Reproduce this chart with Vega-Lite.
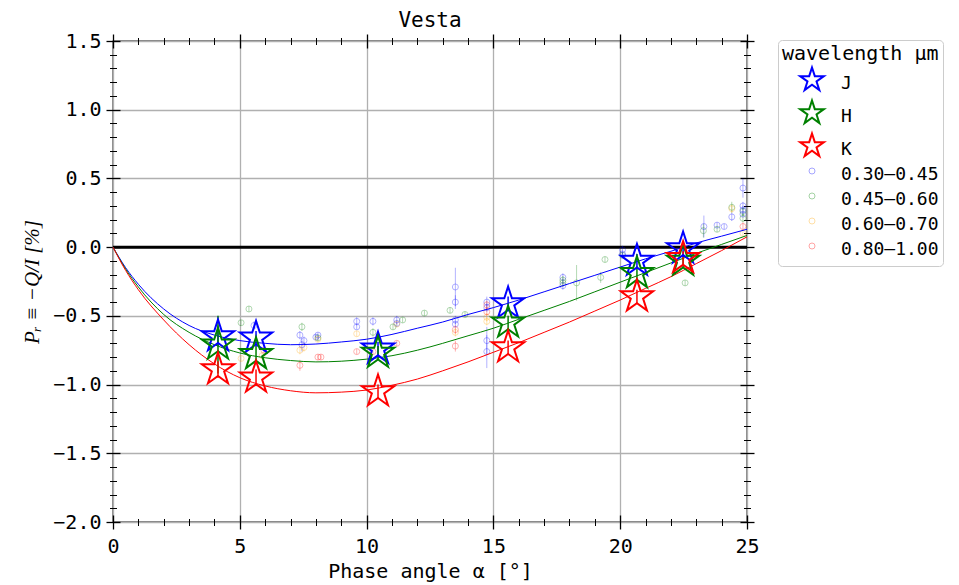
{
  "$schema": "https://vega.github.io/schema/vega-lite/v6.json",
  "width": 634,
  "height": 481,
  "autosize": {"type": "none"},
  "padding": {"left": 113, "top": 41, "right": 212, "bottom": 63},
  "background": "white",
  "title": {"text": "Vesta", "font": "DejaVu Sans Mono", "fontSize": 21, "fontWeight": "normal", "color": "black", "offset": 0},
  "config": {
    "view": {"stroke": "black", "strokeWidth": 1.3},
    "axis": {
      "labelFont": "DejaVu Sans Mono", "labelFontSize": 20, "labelColor": "black",
      "titleFont": "DejaVu Sans Mono", "titleFontSize": 20, "titleFontWeight": "normal", "titleColor": "black",
      "tickColor": "black", "gridColor": "#b0b0b0", "gridWidth": 1.3, "domain": false
    },
    "legend": {
      "strokeColor": "#cccccc", "cornerRadius": 4, "padding": 4, "fillColor": "white",
      "titleFont": "DejaVu Sans Mono", "titleFontSize": 20, "titleFontWeight": "normal", "titleColor": "black", "titlePadding": 7,
      "labelFont": "DejaVu Sans Mono", "labelFontSize": 18, "labelColor": "black", "labelOffset": 22,
      "symbolSize": 100, "symbolOffset": 21, "symbolStrokeWidth": 2, "rowPadding": 0
    }
  },
  "datasets": {
    "curves": [
      {"g": "J", "a": 0, "p": 0}, {"g": "J", "a": 0.5, "p": -0.15}, {"g": "J", "a": 1, "p": -0.27}, {"g": "J", "a": 2, "p": -0.45}, {"g": "J", "a": 3, "p": -0.57}, {"g": "J", "a": 4, "p": -0.64}, {"g": "J", "a": 5, "p": -0.68}, {"g": "J", "a": 6, "p": -0.70}, {"g": "J", "a": 7, "p": -0.71}, {"g": "J", "a": 8, "p": -0.705}, {"g": "J", "a": 9, "p": -0.69}, {"g": "J", "a": 10, "p": -0.67}, {"g": "J", "a": 11, "p": -0.635}, {"g": "J", "a": 12, "p": -0.59}, {"g": "J", "a": 13, "p": -0.545}, {"g": "J", "a": 14, "p": -0.49}, {"g": "J", "a": 15, "p": -0.44}, {"g": "J", "a": 16, "p": -0.385}, {"g": "J", "a": 17, "p": -0.325}, {"g": "J", "a": 18, "p": -0.265}, {"g": "J", "a": 19, "p": -0.205}, {"g": "J", "a": 20, "p": -0.145}, {"g": "J", "a": 21, "p": -0.085}, {"g": "J", "a": 22, "p": -0.03}, {"g": "J", "a": 23, "p": 0.03}, {"g": "J", "a": 24, "p": 0.08}, {"g": "J", "a": 25, "p": 0.13},
      {"g": "H", "a": 0, "p": 0}, {"g": "H", "a": 0.5, "p": -0.16}, {"g": "H", "a": 1, "p": -0.29}, {"g": "H", "a": 2, "p": -0.49}, {"g": "H", "a": 3, "p": -0.62}, {"g": "H", "a": 4, "p": -0.71}, {"g": "H", "a": 5, "p": -0.77}, {"g": "H", "a": 6, "p": -0.805}, {"g": "H", "a": 7, "p": -0.825}, {"g": "H", "a": 8, "p": -0.835}, {"g": "H", "a": 9, "p": -0.83}, {"g": "H", "a": 10, "p": -0.815}, {"g": "H", "a": 11, "p": -0.79}, {"g": "H", "a": 12, "p": -0.75}, {"g": "H", "a": 13, "p": -0.70}, {"g": "H", "a": 14, "p": -0.645}, {"g": "H", "a": 15, "p": -0.59}, {"g": "H", "a": 16, "p": -0.525}, {"g": "H", "a": 17, "p": -0.46}, {"g": "H", "a": 18, "p": -0.395}, {"g": "H", "a": 19, "p": -0.325}, {"g": "H", "a": 20, "p": -0.255}, {"g": "H", "a": 21, "p": -0.185}, {"g": "H", "a": 22, "p": -0.115}, {"g": "H", "a": 23, "p": -0.045}, {"g": "H", "a": 24, "p": 0.02}, {"g": "H", "a": 25, "p": 0.085},
      {"g": "K", "a": 0, "p": 0}, {"g": "K", "a": 0.5, "p": -0.17}, {"g": "K", "a": 1, "p": -0.31}, {"g": "K", "a": 2, "p": -0.53}, {"g": "K", "a": 3, "p": -0.71}, {"g": "K", "a": 4, "p": -0.85}, {"g": "K", "a": 5, "p": -0.95}, {"g": "K", "a": 6, "p": -1.01}, {"g": "K", "a": 7, "p": -1.045}, {"g": "K", "a": 8, "p": -1.06}, {"g": "K", "a": 9, "p": -1.055}, {"g": "K", "a": 10, "p": -1.04}, {"g": "K", "a": 11, "p": -1.005}, {"g": "K", "a": 12, "p": -0.96}, {"g": "K", "a": 13, "p": -0.90}, {"g": "K", "a": 14, "p": -0.835}, {"g": "K", "a": 15, "p": -0.765}, {"g": "K", "a": 16, "p": -0.695}, {"g": "K", "a": 17, "p": -0.62}, {"g": "K", "a": 18, "p": -0.545}, {"g": "K", "a": 19, "p": -0.465}, {"g": "K", "a": 20, "p": -0.385}, {"g": "K", "a": 21, "p": -0.30}, {"g": "K", "a": 22, "p": -0.215}, {"g": "K", "a": 23, "p": -0.12}, {"g": "K", "a": 24, "p": -0.025}, {"g": "K", "a": 25, "p": 0.075}
    ],
    "stars": [
      {"g": "J", "a": 4.14, "p": -0.65, "lo": -0.72, "hi": -0.58},
      {"g": "J", "a": 5.64, "p": -0.66, "lo": -0.71, "hi": -0.61},
      {"g": "J", "a": 10.45, "p": -0.74, "lo": -0.79, "hi": -0.69},
      {"g": "J", "a": 15.58, "p": -0.41, "lo": -0.46, "hi": -0.36},
      {"g": "J", "a": 20.66, "p": -0.10, "lo": -0.15, "hi": -0.05},
      {"g": "J", "a": 22.48, "p": -0.01, "lo": -0.06, "hi": 0.04},
      {"g": "H", "a": 4.14, "p": -0.71, "lo": -0.92, "hi": -0.50},
      {"g": "H", "a": 5.64, "p": -0.78, "lo": -0.84, "hi": -0.72},
      {"g": "H", "a": 10.45, "p": -0.77, "lo": -0.82, "hi": -0.72},
      {"g": "H", "a": 15.58, "p": -0.55, "lo": -0.60, "hi": -0.50},
      {"g": "H", "a": 20.66, "p": -0.19, "lo": -0.24, "hi": -0.14},
      {"g": "H", "a": 22.48, "p": -0.10, "lo": -0.15, "hi": -0.05},
      {"g": "K", "a": 4.14, "p": -0.89, "lo": -0.95, "hi": -0.83},
      {"g": "K", "a": 5.64, "p": -0.95, "lo": -1.01, "hi": -0.89},
      {"g": "K", "a": 10.45, "p": -1.05, "lo": -1.10, "hi": -1.00},
      {"g": "K", "a": 15.58, "p": -0.73, "lo": -0.78, "hi": -0.68},
      {"g": "K", "a": 20.66, "p": -0.36, "lo": -0.41, "hi": -0.31},
      {"g": "K", "a": 22.48, "p": -0.08, "lo": -0.13, "hi": -0.03}
    ],
    "obs": [
      {"g": "0.30–0.45", "a": 5.56, "p": -0.57, "lo": -0.60, "hi": -0.54},
      {"g": "0.30–0.45", "a": 7.37, "p": -0.64, "lo": -0.67, "hi": -0.61},
      {"g": "0.30–0.45", "a": 7.53, "p": -0.68, "lo": -0.71, "hi": -0.65},
      {"g": "0.30–0.45", "a": 7.45, "p": -0.71, "lo": -0.76, "hi": -0.66},
      {"g": "0.30–0.45", "a": 8.08, "p": -0.64, "lo": -0.66, "hi": -0.62},
      {"g": "0.30–0.45", "a": 8.0, "p": -0.655, "lo": -0.675, "hi": -0.635},
      {"g": "0.30–0.45", "a": 9.61, "p": -0.54, "lo": -0.57, "hi": -0.51},
      {"g": "0.30–0.45", "a": 9.61, "p": -0.58, "lo": -0.60, "hi": -0.56},
      {"g": "0.30–0.45", "a": 10.25, "p": -0.54, "lo": -0.57, "hi": -0.51},
      {"g": "0.30–0.45", "a": 11.19, "p": -0.53, "lo": -0.56, "hi": -0.50},
      {"g": "0.30–0.45", "a": 11.19, "p": -0.555, "lo": -0.575, "hi": -0.535},
      {"g": "0.30–0.45", "a": 13.5, "p": -0.29, "lo": -0.43, "hi": -0.15},
      {"g": "0.30–0.45", "a": 13.5, "p": -0.40, "lo": -0.45, "hi": -0.35},
      {"g": "0.30–0.45", "a": 13.5, "p": -0.53, "lo": -0.56, "hi": -0.50},
      {"g": "0.30–0.45", "a": 13.5, "p": -0.56, "lo": -0.58, "hi": -0.54},
      {"g": "0.30–0.45", "a": 14.74, "p": -0.40, "lo": -0.44, "hi": -0.36},
      {"g": "0.30–0.45", "a": 14.74, "p": -0.44, "lo": -0.47, "hi": -0.41},
      {"g": "0.30–0.45", "a": 14.74, "p": -0.68, "lo": -0.78, "hi": -0.58},
      {"g": "0.30–0.45", "a": 14.74, "p": -0.76, "lo": -0.88, "hi": -0.64},
      {"g": "0.30–0.45", "a": 17.74, "p": -0.22, "lo": -0.25, "hi": -0.19},
      {"g": "0.30–0.45", "a": 17.74, "p": -0.28, "lo": -0.31, "hi": -0.25},
      {"g": "0.30–0.45", "a": 20.09, "p": -0.02, "lo": -0.05, "hi": 0.01},
      {"g": "0.30–0.45", "a": 20.09, "p": -0.05, "lo": -0.07, "hi": -0.03},
      {"g": "0.30–0.45", "a": 23.3, "p": 0.15, "lo": 0.07, "hi": 0.23},
      {"g": "0.30–0.45", "a": 23.82, "p": 0.16, "lo": 0.14, "hi": 0.18},
      {"g": "0.30–0.45", "a": 24.1, "p": 0.15, "lo": 0.13, "hi": 0.17},
      {"g": "0.30–0.45", "a": 24.4, "p": 0.22, "lo": 0.19, "hi": 0.25},
      {"g": "0.30–0.45", "a": 24.84, "p": 0.43, "lo": 0.36, "hi": 0.50},
      {"g": "0.30–0.45", "a": 24.84, "p": 0.30, "lo": 0.27, "hi": 0.33},
      {"g": "0.30–0.45", "a": 24.84, "p": 0.27, "lo": 0.24, "hi": 0.30},
      {"g": "0.30–0.45", "a": 24.84, "p": 0.24, "lo": 0.22, "hi": 0.26},
      {"g": "0.45–0.60", "a": 5.05, "p": -0.55, "lo": -0.57, "hi": -0.53},
      {"g": "0.45–0.60", "a": 5.36, "p": -0.45, "lo": -0.47, "hi": -0.43},
      {"g": "0.45–0.60", "a": 7.45, "p": -0.58, "lo": -0.61, "hi": -0.55},
      {"g": "0.45–0.60", "a": 8.08, "p": -0.66, "lo": -0.68, "hi": -0.64},
      {"g": "0.45–0.60", "a": 10.25, "p": -0.62, "lo": -0.65, "hi": -0.59},
      {"g": "0.45–0.60", "a": 11.04, "p": -0.58, "lo": -0.60, "hi": -0.56},
      {"g": "0.45–0.60", "a": 11.42, "p": -0.53, "lo": -0.55, "hi": -0.51},
      {"g": "0.45–0.60", "a": 12.28, "p": -0.48, "lo": -0.50, "hi": -0.46},
      {"g": "0.45–0.60", "a": 13.29, "p": -0.46, "lo": -0.48, "hi": -0.44},
      {"g": "0.45–0.60", "a": 13.88, "p": -0.49, "lo": -0.51, "hi": -0.47},
      {"g": "0.45–0.60", "a": 17.74, "p": -0.24, "lo": -0.27, "hi": -0.21},
      {"g": "0.45–0.60", "a": 17.74, "p": -0.26, "lo": -0.29, "hi": -0.23},
      {"g": "0.45–0.60", "a": 18.28, "p": -0.26, "lo": -0.39, "hi": -0.13},
      {"g": "0.45–0.60", "a": 19.23, "p": -0.22, "lo": -0.26, "hi": -0.18},
      {"g": "0.45–0.60", "a": 19.4, "p": -0.09, "lo": -0.11, "hi": -0.07},
      {"g": "0.45–0.60", "a": 20.09, "p": -0.06, "lo": -0.08, "hi": -0.04},
      {"g": "0.45–0.60", "a": 22.56, "p": -0.26, "lo": -0.28, "hi": -0.24},
      {"g": "0.45–0.60", "a": 23.28, "p": 0.12, "lo": 0.07, "hi": 0.17},
      {"g": "0.45–0.60", "a": 23.82, "p": 0.13, "lo": 0.11, "hi": 0.15},
      {"g": "0.45–0.60", "a": 24.4, "p": 0.29, "lo": 0.25, "hi": 0.33},
      {"g": "0.45–0.60", "a": 24.84, "p": 0.21, "lo": 0.18, "hi": 0.24},
      {"g": "0.45–0.60", "a": 24.84, "p": 0.26, "lo": 0.23, "hi": 0.29},
      {"g": "0.60–0.70", "a": 5.05, "p": -0.81, "lo": -0.83, "hi": -0.79},
      {"g": "0.60–0.70", "a": 5.88, "p": -0.79, "lo": -0.81, "hi": -0.77},
      {"g": "0.60–0.70", "a": 7.37, "p": -0.75, "lo": -0.78, "hi": -0.72},
      {"g": "0.60–0.70", "a": 7.53, "p": -0.73, "lo": -0.76, "hi": -0.70},
      {"g": "0.60–0.70", "a": 8.08, "p": -0.67, "lo": -0.69, "hi": -0.65},
      {"g": "0.60–0.70", "a": 9.61, "p": -0.63, "lo": -0.65, "hi": -0.61},
      {"g": "0.60–0.70", "a": 11.19, "p": -0.56, "lo": -0.58, "hi": -0.54},
      {"g": "0.60–0.70", "a": 13.5, "p": -0.62, "lo": -0.65, "hi": -0.59},
      {"g": "0.60–0.70", "a": 14.74, "p": -0.51, "lo": -0.54, "hi": -0.48},
      {"g": "0.60–0.70", "a": 14.74, "p": -0.54, "lo": -0.57, "hi": -0.51},
      {"g": "0.60–0.70", "a": 24.4, "p": 0.28, "lo": 0.25, "hi": 0.31},
      {"g": "0.60–0.70", "a": 24.84, "p": 0.10, "lo": 0.08, "hi": 0.12},
      {"g": "0.80–1.00", "a": 5.95, "p": -0.75, "lo": -0.77, "hi": -0.73},
      {"g": "0.80–1.00", "a": 7.37, "p": -0.86, "lo": -0.90, "hi": -0.82},
      {"g": "0.80–1.00", "a": 8.08, "p": -0.80, "lo": -0.82, "hi": -0.78},
      {"g": "0.80–1.00", "a": 8.2, "p": -0.80, "lo": -0.82, "hi": -0.78},
      {"g": "0.80–1.00", "a": 9.61, "p": -0.76, "lo": -0.78, "hi": -0.74},
      {"g": "0.80–1.00", "a": 10.25, "p": -0.76, "lo": -0.78, "hi": -0.74},
      {"g": "0.80–1.00", "a": 11.19, "p": -0.70, "lo": -0.72, "hi": -0.68},
      {"g": "0.80–1.00", "a": 13.5, "p": -0.60, "lo": -0.63, "hi": -0.57},
      {"g": "0.80–1.00", "a": 13.5, "p": -0.72, "lo": -0.76, "hi": -0.68},
      {"g": "0.80–1.00", "a": 14.74, "p": -0.42, "lo": -0.45, "hi": -0.39},
      {"g": "0.80–1.00", "a": 14.74, "p": -0.47, "lo": -0.50, "hi": -0.44},
      {"g": "0.80–1.00", "a": 24.84, "p": 0.15, "lo": 0.12, "hi": 0.18}
    ]
  },
  "resolve": {"axis": {"x": "independent", "y": "independent"}},
  "layer": [
    {
      "data": {"values": [{}]},
      "mark": {"type": "point", "opacity": 0},
      "encoding": {
        "x": {"datum": 0, "type": "quantitative", "scale": {"domain": [0, 25], "nice": false, "zero": false},
          "axis": {"orient": "bottom", "values": [0, 5, 10, 15, 20, 25], "format": "d", "ticks": false, "grid": true, "labelPadding": 14, "labelFlush": false, "labelOverlap": false, "title": "Phase angle α [°]", "titlePadding": 5}},
        "y": {"datum": 0, "type": "quantitative", "scale": {"domain": [-2, 1.5], "nice": false, "zero": false},
          "axis": {"orient": "left", "values": [-2, -1.5, -1, -0.5, 0, 0.5, 1, 1.5], "format": ".1f", "ticks": false, "grid": true, "labelPadding": 12, "labelFlush": false, "labelOverlap": false, "title": "Pᵣ ≡ −Q/I  [%]", "titleFont": "Liberation Serif", "titleFontStyle": "italic", "titleFontSize": 21, "titlePadding": 10}}
      }
    },
    {
      "data": {"values": [{}]},
      "mark": {"type": "point", "opacity": 0},
      "encoding": {
        "x": {"datum": 0, "type": "quantitative", "axis": {"orient": "bottom", "values": [0, 5, 10, 15, 20, 25], "offset": -7, "tickSize": 14, "tickWidth": 1.3, "labels": false, "grid": false, "title": null}},
        "y": {"datum": 0, "type": "quantitative", "axis": {"orient": "left", "values": [-2, -1.5, -1, -0.5, 0, 0.5, 1, 1.5], "offset": -7, "tickSize": 14, "tickWidth": 1.3, "labels": false, "grid": false, "title": null}}
      }
    },
    {
      "data": {"values": [{}]},
      "mark": {"type": "point", "opacity": 0},
      "encoding": {
        "x": {"datum": 0, "type": "quantitative", "axis": {"orient": "bottom", "values": [0, 1, 2, 3, 4, 5, 6, 7, 8, 9, 10, 11, 12, 13, 14, 15, 16, 17, 18, 19, 20, 21, 22, 23, 24, 25], "offset": -3.5, "tickSize": 7, "tickWidth": 1, "labels": false, "grid": false, "title": null}},
        "y": {"datum": 0, "type": "quantitative", "axis": {"orient": "left", "values": [-2, -1.9, -1.8, -1.7, -1.6, -1.5, -1.4, -1.3, -1.2, -1.1, -1, -0.9, -0.8, -0.7, -0.6, -0.5, -0.4, -0.3, -0.2, -0.1, 0, 0.1, 0.2, 0.3, 0.4, 0.5, 0.6, 0.7, 0.8, 0.9, 1, 1.1, 1.2, 1.3, 1.4, 1.5], "offset": -3.5, "tickSize": 7, "tickWidth": 1, "labels": false, "grid": false, "title": null}}
      }
    },
    {
      "data": {"values": [{}]},
      "mark": {"type": "point", "opacity": 0},
      "encoding": {
        "x": {"datum": 0, "type": "quantitative", "axis": {"orient": "top", "values": [0, 5, 10, 15, 20, 25], "offset": -7, "tickSize": 14, "tickWidth": 1.3, "labels": false, "grid": false, "title": null}},
        "y": {"datum": 0, "type": "quantitative", "axis": {"orient": "right", "values": [-2, -1.5, -1, -0.5, 0, 0.5, 1, 1.5], "offset": -7, "tickSize": 14, "tickWidth": 1.3, "labels": false, "grid": false, "title": null}}
      }
    },
    {
      "data": {"values": [{}]},
      "mark": {"type": "point", "opacity": 0},
      "encoding": {
        "x": {"datum": 0, "type": "quantitative", "axis": {"orient": "top", "values": [0, 1, 2, 3, 4, 5, 6, 7, 8, 9, 10, 11, 12, 13, 14, 15, 16, 17, 18, 19, 20, 21, 22, 23, 24, 25], "offset": -3.5, "tickSize": 7, "tickWidth": 1, "labels": false, "grid": false, "title": null}},
        "y": {"datum": 0, "type": "quantitative", "axis": {"orient": "right", "values": [-2, -1.9, -1.8, -1.7, -1.6, -1.5, -1.4, -1.3, -1.2, -1.1, -1, -0.9, -0.8, -0.7, -0.6, -0.5, -0.4, -0.3, -0.2, -0.1, 0, 0.1, 0.2, 0.3, 0.4, 0.5, 0.6, 0.7, 0.8, 0.9, 1, 1.1, 1.2, 1.3, 1.4, 1.5], "offset": -3.5, "tickSize": 7, "tickWidth": 1, "labels": false, "grid": false, "title": null}}
      }
    },
    {
      "data": {"values": [{}]},
      "mark": {"type": "rule", "color": "black", "strokeWidth": 3},
      "encoding": {"y": {"datum": 0, "type": "quantitative", "axis": null}}
    },
    {
      "data": {"name": "obs"},
      "mark": {"type": "rule", "strokeWidth": 1, "opacity": 0.3},
      "encoding": {
        "x": {"field": "a", "type": "quantitative", "axis": null},
        "y": {"field": "lo", "type": "quantitative", "axis": null},
        "y2": {"field": "hi"},
        "color": {"field": "g", "type": "nominal", "scale": {"domain": ["J", "H", "K", "0.30–0.45", "0.45–0.60", "0.60–0.70", "0.80–1.00"], "range": ["#0000ff", "#008000", "#ff0000", "#0000ff", "#008000", "#ffa500", "#ff0000"]},
          "legend": {"title": "wavelength µm", "orient": "none", "legendX": 665, "legendY": -1, "labelExpr": "['', datum.label, '']", "encode": {"symbols": {"update": {"x": {"value": 30}, "size": {"signal": "indexof(['J','H','K'], datum.value) >= 0 ? 625 : 36"}, "opacity": {"signal": "indexof(['J','H','K'], datum.value) >= 0 ? 1 : 0.35"}, "strokeWidth": {"signal": "indexof(['J','H','K'], datum.value) >= 0 ? 2 : 1"}, "fill": {"value": "transparent"}}}, "labels": {"update": {"x": {"value": 59}, "lineHeight": {"value": 3.5}}}}}}
      }
    },
    {
      "data": {"name": "obs"},
      "mark": {"type": "point", "filled": false, "strokeWidth": 1, "size": 36, "opacity": 0.3},
      "encoding": {
        "x": {"field": "a", "type": "quantitative", "axis": null},
        "y": {"field": "p", "type": "quantitative", "axis": null},
        "color": {"field": "g", "type": "nominal",
          "legend": {"title": "wavelength µm", "orient": "none", "legendX": 665, "legendY": -1, "labelExpr": "['', datum.label, '']", "encode": {"symbols": {"update": {"x": {"value": 30}, "size": {"signal": "indexof(['J','H','K'], datum.value) >= 0 ? 625 : 36"}, "opacity": {"signal": "indexof(['J','H','K'], datum.value) >= 0 ? 1 : 0.35"}, "strokeWidth": {"signal": "indexof(['J','H','K'], datum.value) >= 0 ? 2 : 1"}, "fill": {"value": "transparent"}}}, "labels": {"update": {"x": {"value": 59}, "lineHeight": {"value": 3.5}}}}}},
        "shape": {"field": "g", "type": "nominal", "scale": {"domain": ["J", "H", "K", "0.30–0.45", "0.45–0.60", "0.60–0.70", "0.80–1.00"], "range": ["M0,-1L0.2245,-0.309L0.951,-0.309L0.363,0.118L0.588,0.809L0,0.382L-0.588,0.809L-0.363,0.118L-0.951,-0.309L-0.2245,-0.309Z", "M0,-1L0.2245,-0.309L0.951,-0.309L0.363,0.118L0.588,0.809L0,0.382L-0.588,0.809L-0.363,0.118L-0.951,-0.309L-0.2245,-0.309Z", "M0,-1L0.2245,-0.309L0.951,-0.309L0.363,0.118L0.588,0.809L0,0.382L-0.588,0.809L-0.363,0.118L-0.951,-0.309L-0.2245,-0.309Z", "circle", "circle", "circle", "circle"]},
          "legend": {"title": "wavelength µm", "orient": "none", "legendX": 665, "legendY": -1, "labelExpr": "['', datum.label, '']", "encode": {"symbols": {"update": {"x": {"value": 30}, "size": {"signal": "indexof(['J','H','K'], datum.value) >= 0 ? 625 : 36"}, "opacity": {"signal": "indexof(['J','H','K'], datum.value) >= 0 ? 1 : 0.35"}, "strokeWidth": {"signal": "indexof(['J','H','K'], datum.value) >= 0 ? 2 : 1"}, "fill": {"value": "transparent"}}}, "labels": {"update": {"x": {"value": 59}, "lineHeight": {"value": 3.5}}}}}}
      }
    },
    {
      "data": {"name": "curves"},
      "mark": {"type": "line", "strokeWidth": 1, "interpolate": "monotone"},
      "encoding": {
        "x": {"field": "a", "type": "quantitative", "axis": null},
        "y": {"field": "p", "type": "quantitative", "axis": null},
        "color": {"field": "g", "type": "nominal",
          "legend": {"title": "wavelength µm", "orient": "none", "legendX": 665, "legendY": -1, "labelExpr": "['', datum.label, '']", "encode": {"symbols": {"update": {"x": {"value": 30}, "size": {"signal": "indexof(['J','H','K'], datum.value) >= 0 ? 625 : 36"}, "opacity": {"signal": "indexof(['J','H','K'], datum.value) >= 0 ? 1 : 0.35"}, "strokeWidth": {"signal": "indexof(['J','H','K'], datum.value) >= 0 ? 2 : 1"}, "fill": {"value": "transparent"}}}, "labels": {"update": {"x": {"value": 59}, "lineHeight": {"value": 3.5}}}}}}
      }
    },
    {
      "data": {"name": "stars"},
      "mark": {"type": "rule", "strokeWidth": 1.5},
      "encoding": {
        "x": {"field": "a", "type": "quantitative", "axis": null},
        "y": {"field": "lo", "type": "quantitative", "axis": null},
        "y2": {"field": "hi"},
        "color": {"field": "g", "type": "nominal",
          "legend": {"title": "wavelength µm", "orient": "none", "legendX": 665, "legendY": -1, "labelExpr": "['', datum.label, '']", "encode": {"symbols": {"update": {"x": {"value": 30}, "size": {"signal": "indexof(['J','H','K'], datum.value) >= 0 ? 625 : 36"}, "opacity": {"signal": "indexof(['J','H','K'], datum.value) >= 0 ? 1 : 0.35"}, "strokeWidth": {"signal": "indexof(['J','H','K'], datum.value) >= 0 ? 2 : 1"}, "fill": {"value": "transparent"}}}, "labels": {"update": {"x": {"value": 59}, "lineHeight": {"value": 3.5}}}}}}
      }
    },
    {
      "data": {"name": "stars"},
      "mark": {"type": "point", "filled": false, "strokeWidth": 2, "size": 1156, "opacity": 1},
      "encoding": {
        "x": {"field": "a", "type": "quantitative", "axis": null},
        "y": {"field": "p", "type": "quantitative", "axis": null},
        "color": {"field": "g", "type": "nominal",
          "legend": {"title": "wavelength µm", "orient": "none", "legendX": 665, "legendY": -1, "labelExpr": "['', datum.label, '']", "encode": {"symbols": {"update": {"x": {"value": 30}, "size": {"signal": "indexof(['J','H','K'], datum.value) >= 0 ? 625 : 36"}, "opacity": {"signal": "indexof(['J','H','K'], datum.value) >= 0 ? 1 : 0.35"}, "strokeWidth": {"signal": "indexof(['J','H','K'], datum.value) >= 0 ? 2 : 1"}, "fill": {"value": "transparent"}}}, "labels": {"update": {"x": {"value": 59}, "lineHeight": {"value": 3.5}}}}}},
        "shape": {"field": "g", "type": "nominal",
          "legend": {"title": "wavelength µm", "orient": "none", "legendX": 665, "legendY": -1, "labelExpr": "['', datum.label, '']", "encode": {"symbols": {"update": {"x": {"value": 30}, "size": {"signal": "indexof(['J','H','K'], datum.value) >= 0 ? 625 : 36"}, "opacity": {"signal": "indexof(['J','H','K'], datum.value) >= 0 ? 1 : 0.35"}, "strokeWidth": {"signal": "indexof(['J','H','K'], datum.value) >= 0 ? 2 : 1"}, "fill": {"value": "transparent"}}}, "labels": {"update": {"x": {"value": 59}, "lineHeight": {"value": 3.5}}}}}}
      }
    }
  ]
}
